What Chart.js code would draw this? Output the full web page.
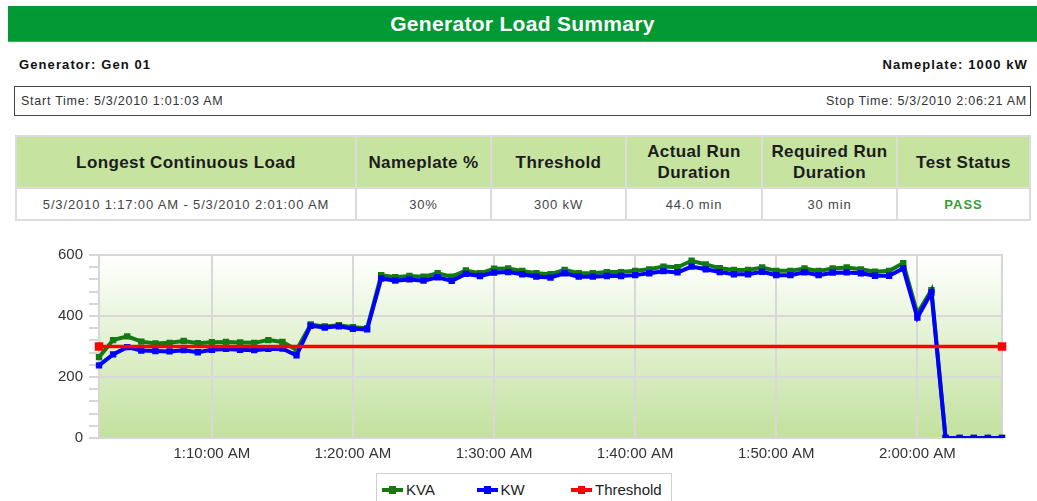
<!DOCTYPE html>
<html>
<head>
<meta charset="utf-8">
<script src="https://cdn.jsdelivr.net/npm/chart.js@4/dist/chart.umd.min.js"></script>
<style>
body{margin:0;width:1037px;height:501px;overflow:hidden;background:#fff;position:relative;font-family:Arial,"Liberation Sans",sans-serif}
#title{position:absolute;left:8px;top:6px;width:1029px;height:35px;background:#009933;border-bottom:1px solid #3db25f;color:#fff;font-weight:bold;font-size:21px;letter-spacing:0.3px;line-height:35px;text-align:center}
.lbl{position:absolute;top:57px;font-size:13px;font-weight:bold;color:#111;letter-spacing:1.1px}
#gen{left:19px}
#plate{right:9px}
#times{position:absolute;left:14px;top:86px;width:1015px;height:28px;border:1px solid #444;font-size:12.5px;letter-spacing:0.75px;color:#333;line-height:28px}
#times .st{position:absolute;left:6px}
#times .sp{position:absolute;right:3px}
table{position:absolute;left:15px;top:135px;width:1014px;border-collapse:collapse;table-layout:fixed;border:2px solid #dcdcdc}
th{background:#c6e3a0;height:50px;font-size:17px;font-weight:bold;color:#1c1c1c;line-height:21px;border:2px solid #dcdcdc;padding:0;letter-spacing:0.4px}
td{height:30px;font-size:13px;color:#444;text-align:center;border:2px solid #dcdcdc;padding:0;letter-spacing:0.85px}
td.pass{color:#3a9a3a;font-weight:bold;letter-spacing:1px}
#wrap{position:absolute;left:0;top:235px;width:1037px;height:235px}
#legend{position:absolute;left:376px;top:473px;width:294px;height:40px;border:1px solid #cfcfcf}
.item{position:absolute;top:6px;height:20px;font-size:15px;color:#222;line-height:20px}
.sym{position:absolute;left:0;top:8px;width:21px;height:4px}
.sym::after{content:'';position:absolute;left:7px;top:-2px;width:7px;height:8px;background:inherit}
.item span.t{position:absolute;left:24px;white-space:nowrap}
</style>
</head>
<body>
<div id="title">Generator Load Summary</div>
<div class="lbl" id="gen">Generator: Gen 01</div>
<div class="lbl" id="plate">Nameplate: 1000 kW</div>
<div id="times"><span class="st">Start Time: 5/3/2010 1:01:03 AM</span><span class="sp">Stop Time: 5/3/2010 2:06:21 AM</span></div>
<table>
<colgroup><col style="width:340px"><col style="width:135px"><col style="width:135px"><col style="width:136px"><col style="width:135px"><col style="width:133px"></colgroup>
<tr><th>Longest Continuous Load</th><th>Nameplate %</th><th>Threshold</th><th>Actual Run<br>Duration</th><th>Required Run<br>Duration</th><th>Test Status</th></tr>
<tr><td>5/3/2010 1:17:00 AM - 5/3/2010 2:01:00 AM</td><td>30%</td><td>300 kW</td><td>44.0 min</td><td>30 min</td><td class="pass">PASS</td></tr>
</table>
<div id="wrap"><canvas id="chart" width="1037" height="235"></canvas></div>
<div id="legend"></div>
<script>
/* ===== 資料 ===== */
const times=['1:02:00 AM','1:03:00 AM','1:04:00 AM','1:05:00 AM','1:06:00 AM','1:07:00 AM','1:08:00 AM','1:09:00 AM',
 '1:10:00 AM','1:11:00 AM','1:12:00 AM','1:13:00 AM','1:14:00 AM','1:15:00 AM','1:16:00 AM','1:17:00 AM','1:18:00 AM','1:19:00 AM',
 '1:20:00 AM','1:21:00 AM','1:22:00 AM','1:23:00 AM','1:24:00 AM','1:25:00 AM','1:26:00 AM','1:27:00 AM','1:28:00 AM','1:29:00 AM',
 '1:30:00 AM','1:31:00 AM','1:32:00 AM','1:33:00 AM','1:34:00 AM','1:35:00 AM','1:36:00 AM','1:37:00 AM','1:38:00 AM','1:39:00 AM',
 '1:40:00 AM','1:41:00 AM','1:42:00 AM','1:43:00 AM','1:44:00 AM','1:45:00 AM','1:46:00 AM','1:47:00 AM','1:48:00 AM','1:49:00 AM',
 '1:50:00 AM','1:51:00 AM','1:52:00 AM','1:53:00 AM','1:54:00 AM','1:55:00 AM','1:56:00 AM','1:57:00 AM','1:58:00 AM','1:59:00 AM',
 '2:00:00 AM','2:01:00 AM','2:02:00 AM','2:03:00 AM','2:04:00 AM','2:05:00 AM','2:06:00 AM'];
const kva=[265,321,333,316,310,312,318,311,314,315,313,312,321,315,289,
 372,366,370,363,360,
 534,527,531,529,540,529,549,540,555,556,548,540,537,551,540,540,544,544,548,553,562,560,581,569,557,
 551,551,559,548,548,556,548,556,559,553,545,548,573,408,485,0,0,0,0,0];
const kw=[238,274,298,287,285,284,288,281,289,292,289,288,292,293,271,
 368,362,366,358,356,
 523,516,520,516,527,515,538,531,542,544,537,529,526,540,529,529,531,531,534,540,547,543,562,553,544,
 537,537,545,534,534,543,534,542,543,540,532,532,556,395,477,0,0,0,0,0];
const thresholdTimes=['1:02:00 AM','2:06:00 AM'];
const thresholdVals=[300,300];
const yMax=600, yMajor=200, yMinor=40;

/* ===== 系列外觀 ===== */
const series=[
  {label:'KVA', color:'#127a12', data:kva, order:3},
  {label:'KW', color:'#0000ff', data:kw, order:2},
  {label:'Threshold', color:'#ff0000', data:thresholdTimes.map((t,i)=>({x:t,y:thresholdVals[i]})), order:1}
];

const isTen = i => times[i] && times[i].split(':')[1].endsWith('0');

/* ===== 背景漸層 + 外框 ===== */
const plotBg={
  id:'plotBg',
  beforeDraw(chart){
    const {ctx, chartArea:a}=chart;
    const g=ctx.createLinearGradient(0,a.top,0,a.bottom);
    g.addColorStop(0,'#ffffff'); g.addColorStop(1,'#c2e19d');
    ctx.save();
    ctx.fillStyle=g; ctx.fillRect(a.left,a.top,a.right-a.left,a.bottom-a.top);
    ctx.strokeStyle='#d6d6d6'; ctx.lineWidth=2;
    ctx.strokeRect(a.left,a.top,a.right-a.left,a.bottom-a.top);
    ctx.restore();
  }
};

new Chart(document.getElementById('chart'),{
  type:'line',
  data:{
    labels:times,
    datasets:series.map(s=>({
      label:s.label, data:s.data, order:s.order,
      borderColor:s.color, backgroundColor:s.color,
      borderWidth:s.label==='Threshold'?3.5:4,
      pointStyle:'rect',
      pointRadius:s.label==='Threshold'?6:4.5,
      pointBorderWidth:0,
      tension:0, fill:false
    }))
  },
  options:{
    responsive:false, animation:false, devicePixelRatio:1,
    layout:{padding:{top:20,right:35,left:0,bottom:0}},
    plugins:{legend:{display:false}, tooltip:{enabled:false}},
    scales:{
      x:{
        type:'category', offset:false,
        afterFit(s){ s.height=32; },
        border:{color:'#d6d6d6', width:2},
        grid:{ color:c=>isTen(c.index)?'#d8d8d8':'rgba(0,0,0,0)', lineWidth:2, drawTicks:false },
        ticks:{
          autoSkip:false, maxRotation:0, minRotation:0, padding:7,
          color:'#333', font:{family:'Arial, "Liberation Sans"', size:15},
          callback:(v,i)=>isTen(i)?times[i]:''
        }
      },
      y:{
        min:0, max:yMax,
        afterFit(s){ s.width=99; },
        border:{color:'#d6d6d6', width:2},
        grid:{
          color:c=>c.tick && c.tick.value%yMajor===0?'#d8d8d8':'rgba(0,0,0,0)',
          lineWidth:2, drawTicks:true, tickLength:10, tickColor:'#c8c8c8', tickWidth:1.5
        },
        ticks:{
          stepSize:yMinor, autoSkip:false, padding:6,
          color:'#333', font:{family:'Arial, "Liberation Sans"', size:15},
          callback:v=>v%yMajor===0?v:''
        }
      }
    }
  },
  plugins:[plotBg]
});

/* ===== 圖例 ===== */
const legendEl=document.getElementById('legend');
series.forEach((s,i)=>{
  const it=document.createElement('div'); it.className='item';
  it.style.left=(5+i*94.5)+'px';
  const sym=document.createElement('div'); sym.className='sym'; sym.style.background=s.color;
  const t=document.createElement('span'); t.className='t'; t.textContent=s.label;
  it.append(sym,t); legendEl.appendChild(it);
});
</script>
</body>
</html>
